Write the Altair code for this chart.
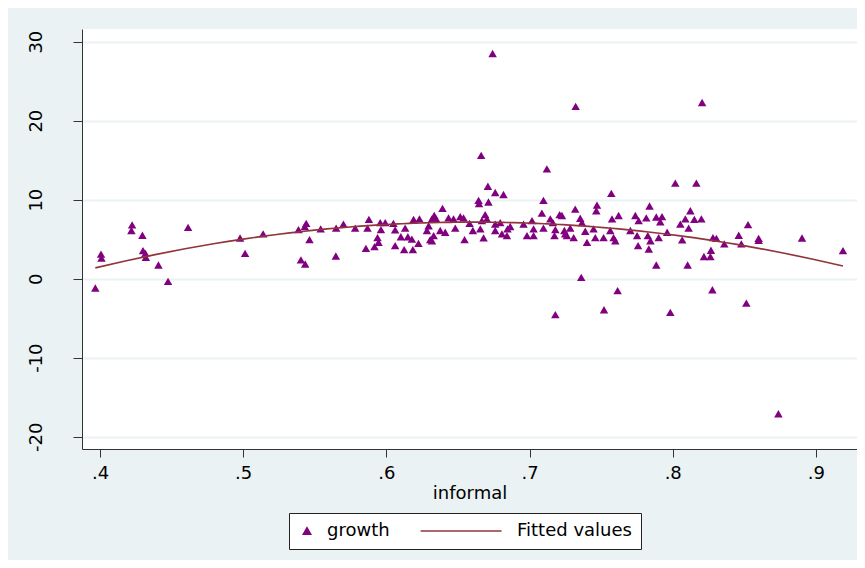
import altair as alt
import pandas as pd

informal = [
    0.3967, 0.4007, 0.4010, 0.4224, 0.4219, 0.4296, 0.4300, 0.4317, 0.4320, 0.4408,
    0.4475, 0.4615, 0.4978, 0.5013, 0.5139, 0.5386, 0.5440, 0.5430, 0.5463, 0.5403,
    0.5433, 0.5541, 0.5647, 0.5649, 0.5700, 0.5782, 0.5868, 0.5878, 0.5857, 0.5917,
    0.5938, 0.5945, 0.5957, 0.5992, 0.5962, 0.6049, 0.6061, 0.6061, 0.6101, 0.6131,
    0.6124, 0.6150, 0.6178, 0.6185, 0.6190, 0.6231, 0.6224, 0.6283, 0.6306, 0.6318,
    0.6334, 0.6330, 0.6295, 0.6662, 0.7121, 0.6709, 0.6760, 0.6818, 0.6644, 0.6647,
    0.6713, 0.7097, 0.6392, 0.6348, 0.6434, 0.6469, 0.6516, 0.6539, 0.6481, 0.6411,
    0.6376, 0.6318, 0.6546, 0.6581, 0.6604, 0.6679, 0.6667, 0.6690, 0.6702, 0.6656,
    0.6760, 0.6760, 0.6795, 0.6807, 0.6846, 0.6865, 0.6842, 0.6958, 0.6982, 0.7017,
    0.7028, 0.7028, 0.7086, 0.7097, 0.7145, 0.7163, 0.7210, 0.7180, 0.7174, 0.7243,
    0.7261, 0.8018, 0.8165, 0.7571, 0.7319, 0.7471, 0.7466, 0.7354, 0.7366, 0.7226,
    0.7576, 0.7622, 0.7739, 0.7762, 0.7815, 0.7838, 0.7885, 0.7925, 0.7913, 0.8123,
    0.8088, 0.8053, 0.8111, 0.8151, 0.7284, 0.7249, 0.7308, 0.7389, 0.7401, 0.7447,
    0.7459, 0.7517, 0.7564, 0.7587, 0.7599, 0.7704, 0.7751, 0.7758, 0.7826, 0.7833,
    0.7844, 0.7902, 0.7961, 0.8066, 0.7885, 0.8104, 0.7361, 0.7615, 0.8200, 0.8281,
    0.8305, 0.8360, 0.8461, 0.8526, 0.8479, 0.8600, 0.8600, 0.8903, 0.9189, 0.8267,
    0.8218, 0.8263, 0.8277, 0.8514, 0.8205, 0.7322, 0.6742, 0.8738, 0.7180, 0.7520,
    0.7983,
]
growth = [
    -1.18, 3.10, 2.60, 6.80, 6.10, 5.50, 3.55, 3.20, 2.70, 1.73,
    -0.34, 6.50, 5.15, 3.20, 5.66, 6.20, 7.00, 6.60, 4.94, 2.37,
    1.86, 6.30, 2.87, 6.40, 6.90, 6.40, 6.40, 7.50, 3.84, 4.06,
    5.20, 4.60, 7.10, 7.10, 6.20, 7.00, 4.18, 6.17, 5.30, 6.40,
    3.68, 5.30, 5.00, 3.68, 7.50, 7.56, 4.47, 6.10, 4.94, 7.56,
    8.00, 5.45, 6.70, 15.6, 13.9, 11.7, 10.9, 10.65, 9.90, 9.50,
    9.70, 9.90, 8.90, 7.56, 7.70, 7.56, 7.86, 7.70, 6.40, 5.87,
    6.10, 4.80, 4.94, 7.00, 6.10, 5.16, 7.35, 8.10, 7.56, 6.30,
    6.10, 6.90, 7.10, 5.66, 6.30, 6.60, 5.45, 6.90, 5.45, 7.35,
    6.30, 5.45, 8.30, 6.40, 7.56, 7.10, 8.10, 6.20, 5.45, 6.10,
    5.45, 12.1, 12.1, 10.8, 8.80, 9.30, 8.60, 7.65, 7.10, 8.00,
    7.56, 8.00, 8.00, 7.35, 7.70, 9.20, 7.80, 7.86, 7.20, 8.60,
    7.56, 6.90, 6.40, 7.50, 6.40, 5.66, 5.20, 6.00, 4.60, 6.30,
    5.20, 5.20, 6.10, 5.20, 4.80, 6.10, 5.45, 4.18, 5.45, 3.76,
    4.80, 5.20, 5.87, 4.90, 1.73, 1.73, 0.17, -1.52, 7.56, 5.20,
    5.10, 4.40, 5.50, 6.84, 4.40, 5.10, 4.85, 5.15, 3.55, 3.60,
    2.80, 2.80, -1.40, -3.10, 22.3, 21.8, 28.5, -17.1, -4.56, -3.93,
    -4.27,
]

series_names = ["growth", "Fitted values"]
series_colors = ["#800080", "#90353B"]
x_ticks = [0.4, 0.5, 0.6, 0.7, 0.8, 0.9]
y_ticks = [-20, -10, 0, 10, 20, 30]

df = pd.DataFrame({"informal": informal, "growth": growth})
df["series"] = "growth"

FONT = "DejaVu Sans"

x_enc = alt.X(
    "informal:Q",
    scale=alt.Scale(domain=[0.3874, 0.9287], nice=False, zero=False),
    axis=alt.Axis(
        values=x_ticks,
        labelExpr="substring(format(datum.value, '.1f'), 1)",
        title="informal",
        grid=False,
        tickSize=8,
        labelPadding=7,
        titlePadding=2,
    ),
)
y_enc = alt.Y(
    "growth:Q",
    scale=alt.Scale(domain=[-21.56, 31.6], nice=False, zero=False),
    axis=alt.Axis(
        values=y_ticks,
        labelExpr="datum.value + ''",
        title=None,
        grid=True,
        gridColor="#EAF2F3",
        gridWidth=2,
        tickSize=9,
        labelAngle=270,
        labelAlign="center",
        labelBaseline="bottom",
        labelPadding=28,
    ),
)

legend = alt.Legend(
    title=None,
    orient="none",
    legendX=207,
    legendY=484,
    direction="horizontal",
    fillColor="white",
    strokeColor="#222222",
    padding=9,
    columnPadding=27,
    labelOffset=11,
    symbolSize=50,
    symbolStrokeWidth=1.7,
)

fill_scale = alt.Scale(domain=series_names, range=series_colors)
stroke_scale = alt.Scale(domain=series_names, range=series_colors)
shape_scale = alt.Scale(domain=series_names, range=["triangle-up", "M-21.6,0L1.3,0"])

points = alt.Chart(df).mark_point(filled=True, opacity=1, size=72, strokeWidth=0).encode(
    x=x_enc,
    y=y_enc,
    fill=alt.Fill("series:N", scale=fill_scale, legend=legend),
    shape=alt.Shape("series:N", scale=shape_scale, legend=legend),
)

fit = (
    alt.Chart(df)
    .transform_regression("informal", "growth", method="poly", order=2)
    .transform_calculate(series="'Fitted values'")
    .mark_line(strokeWidth=1.7)
    .encode(
        x="informal:Q",
        y="growth:Q",
        stroke=alt.Stroke("series:N", scale=stroke_scale, legend=legend),
    )
)

chart = (
    alt.layer(points, fit)
    .properties(
        width=775,
        height=420,
        autosize=alt.AutoSizeParams(type="none"),
        padding={"left": 74, "top": 21, "right": 0, "bottom": 111},
        background="#EAF2F3",
    )
    .configure_view(fill="white", stroke=None)
    .configure_axis(
        labelFont=FONT,
        titleFont=FONT,
        labelFontSize=18,
        titleFontSize=18,
        titleFontWeight="normal",
        labelColor="#000000",
        titleColor="#000000",
        domainColor="#333333",
        tickColor="#333333",
        domainWidth=1,
        tickWidth=1,
    )
    .configure_legend(
        labelFont=FONT,
        labelFontSize=18,
        labelColor="#000000",
    )
)

chart.save("out.html", embed_options={"renderer": "svg", "actions": False})
